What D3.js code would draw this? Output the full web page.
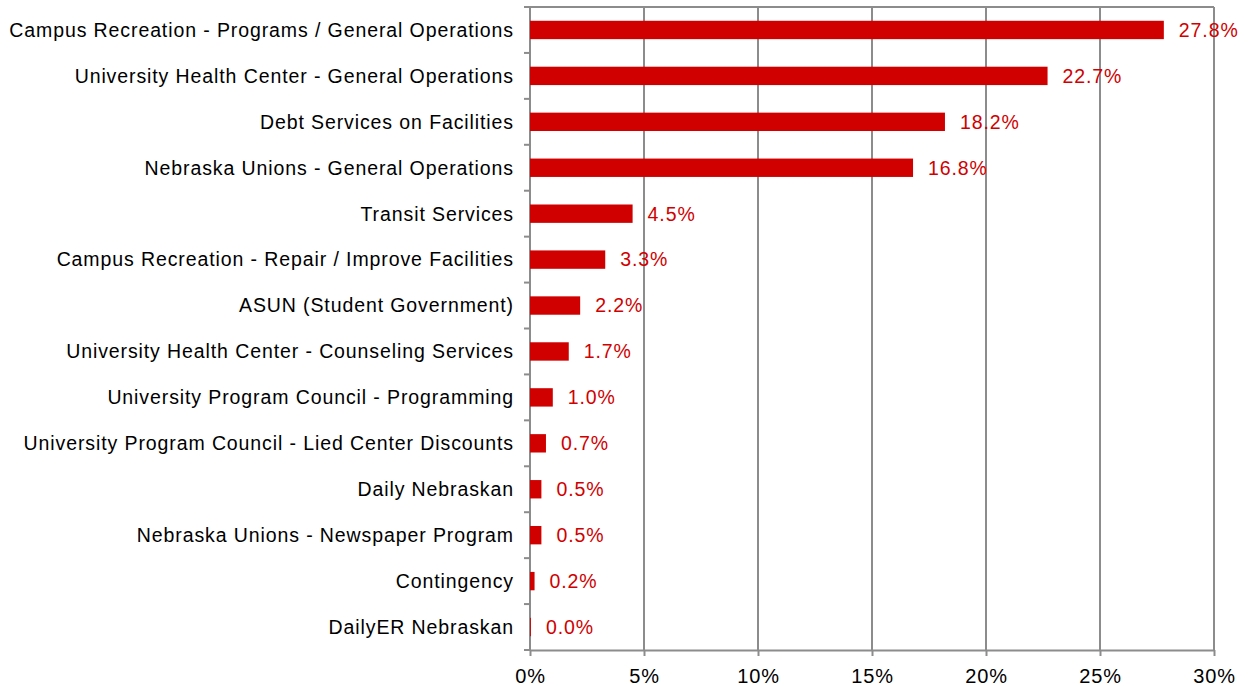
<!DOCTYPE html>
<meta charset="utf-8">
<script src="https://cdn.jsdelivr.net/npm/d3@7"></script>
<style>
  body { margin: 0; background: #fff; }
  text { font-family: "Liberation Sans", Arial, sans-serif; }
</style>
<svg id="graph" width="1254" height="686"></svg>
<script>

// fee allocation categories, top to bottom
var categories = [
  "Campus Recreation - Programs / General Operations",
  "University Health Center - General Operations",
  "Debt Services on Facilities",
  "Nebraska Unions - General Operations",
  "Transit Services",
  "Campus Recreation - Repair / Improve Facilities",
  "ASUN (Student Government)",
  "University Health Center - Counseling Services",
  "University Program Council - Programming",
  "University Program Council - Lied Center Discounts",
  "Daily Nebraskan",
  "Nebraska Unions - Newspaper Program",
  "Contingency",
  "DailyER Nebraskan"
];
var shares = [27.8, 22.7, 18.2, 16.8, 4.5, 3.3, 2.2, 1.7, 1.0, 0.7, 0.5, 0.5, 0.2, 0.04];
var xTicks = [0, 5, 10, 15, 20, 25, 30];

var svg = d3.select("svg"),
    margin = {top: 7, right: 40, bottom: 36, left: 530},
    width = svg.attr("width") - margin.left - margin.right,
    height = svg.attr("height") - margin.top - margin.bottom,
    g = svg.append("g").attr("transform", "translate(" + margin.left + "," + margin.top + ")");

var red = "#d00000", grey = "#8c8c8c";

var x = d3.scaleLinear().domain([0, 30]).range([0, width]);
var y = d3.scaleBand().domain(categories).range([0, height]).paddingInner(0.6).paddingOuter(0.3);
var yb = d3.scaleBand().domain(categories).range([0, height]);

// vertical gridlines
g.selectAll(".grid")
  .data(xTicks.slice(1))
  .enter().append("line")
    .attr("x1", function(d) { return x(d); })
    .attr("x2", function(d) { return x(d); })
    .attr("y1", 0).attr("y2", height)
    .attr("stroke", grey).attr("stroke-width", 2);

// top border
g.append("line")
  .attr("x1", 0).attr("x2", width).attr("y1", 0).attr("y2", 0)
  .attr("stroke", grey).attr("stroke-width", 2);

// bottom axis
var xAxis = g.append("g")
  .attr("transform", "translate(0," + height + ")")
  .call(d3.axisBottom(x).tickValues(xTicks).tickSize(6).tickSizeOuter(0).tickPadding(13)
        .tickFormat(function(d) { return d + "%"; }));
xAxis.select(".domain").attr("stroke", grey).attr("stroke-width", 2);
xAxis.selectAll(".tick line").attr("stroke", grey).attr("stroke-width", 2);
xAxis.selectAll("text").attr("font-size", 20).attr("fill", "#000")
  .attr("letter-spacing", 0.8)
  .attr("font-family", "'Liberation Sans', Arial, sans-serif");

// left axis with band boundary ticks
g.append("line")
  .attr("x1", 0).attr("x2", 0).attr("y1", 0).attr("y2", height)
  .attr("stroke", grey).attr("stroke-width", 2);
g.selectAll(".btick")
  .data(categories)
  .enter().append("line")
    .attr("x1", -6).attr("x2", 0)
    .attr("y1", function(d) { return yb(d); })
    .attr("y2", function(d) { return yb(d); })
    .attr("stroke", grey).attr("stroke-width", 2);
g.append("line")
  .attr("x1", -6).attr("x2", 0).attr("y1", height).attr("y2", height)
  .attr("stroke", grey).attr("stroke-width", 2);

g.selectAll(".cat")
  .data(categories)
  .enter().append("text")
    .attr("x", -16)
    .attr("y", function(d) { return yb(d) + yb.bandwidth() / 2; })
    .attr("dy", "0.35em")
    .attr("text-anchor", "end")
    .attr("font-size", 19.5)
    .attr("letter-spacing", 0.9)
    .attr("fill", "#000")
    .text(function(d) { return d; });

// bars
g.selectAll(".bar")
  .data(shares)
  .enter().append("rect")
    .attr("x", 0)
    .attr("y", function(d, i) { return y(categories[i]); })
    .attr("width", function(d) { return x(d); })
    .attr("height", y.bandwidth())
    .attr("fill", red);

// value labels
g.selectAll(".val")
  .data(shares)
  .enter().append("text")
    .attr("x", function(d) { return x(d) + 15; })
    .attr("y", function(d, i) { return yb(categories[i]) + yb.bandwidth() / 2; })
    .attr("dy", "0.35em")
    .attr("font-size", 19.5)
    .attr("letter-spacing", 0.9)
    .attr("fill", red)
    .text(function(d) { return d.toFixed(1) + "%"; });

</script>
